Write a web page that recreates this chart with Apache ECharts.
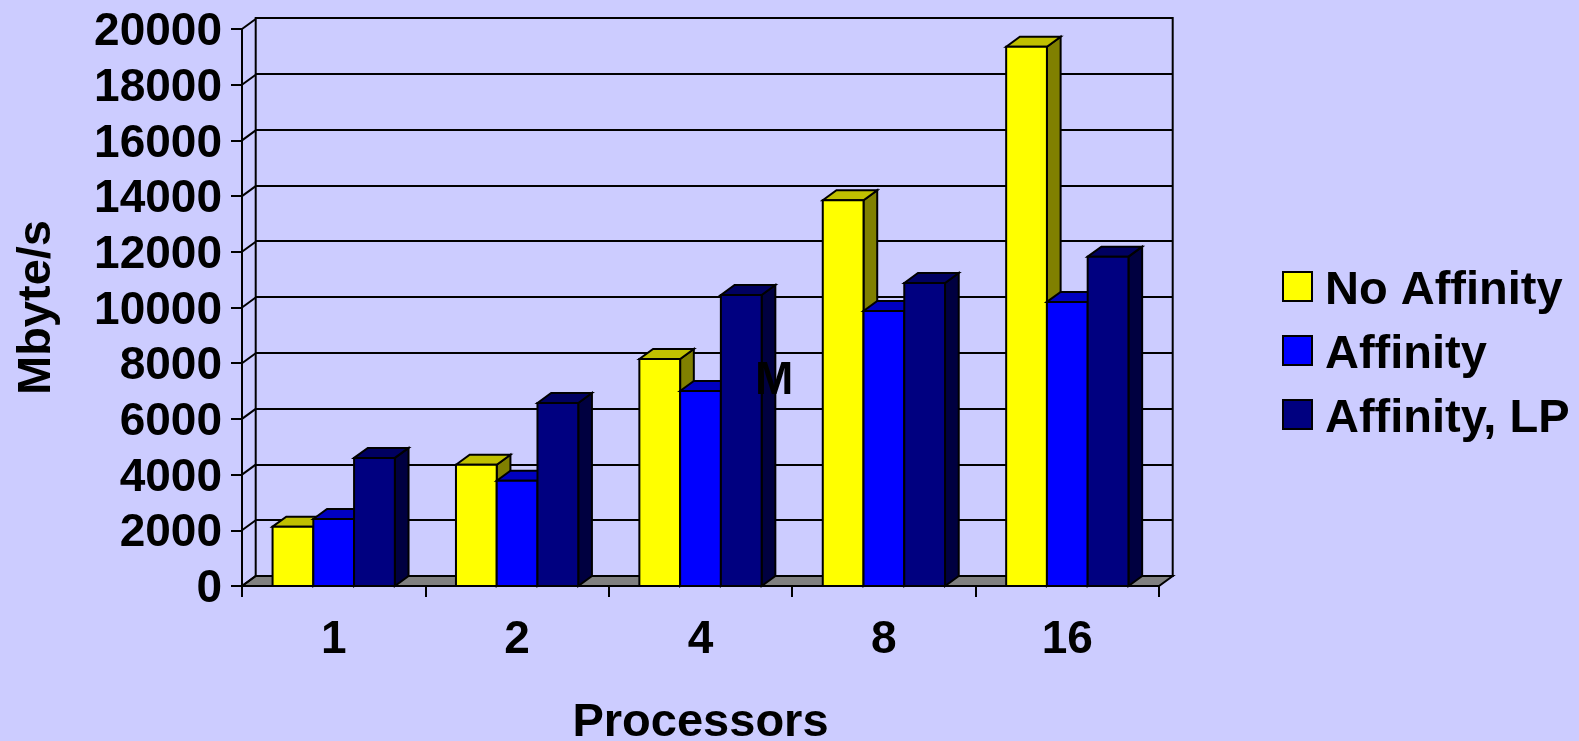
<!DOCTYPE html>
<html>
<head>
<meta charset="utf-8">
<style>
html, body { margin: 0; padding: 0; background: #ccccff; }
#chart { width: 1579px; height: 741px; }
</style>
<script src="https://cdn.jsdelivr.net/npm/echarts@6/dist/echarts.min.js"></script>
</head>
<body>
<div id="chart"></div>
<script>
// Memory throughput by processor count
const categories = ['1', '2', '4', '8', '16'];
const noAffinity = [2130, 4355, 8150, 13850, 19365];
const affinity = [2405, 3780, 7000, 9875, 10200];
const affinityLP = [4600, 6570, 10450, 10880, 11825];
const yTicks = [0, 2000, 4000, 6000, 8000, 10000, 12000, 14000, 16000, 18000, 20000];

const FONT = '"Liberation Sans", Arial, sans-serif';
const DEPTH_X = 13.7;
const DEPTH_Y = -10;
const LINE = 2;
const frontGrid = { left: 242, top: 29, width: 917, height: 557, outerBoundsMode: 'none' };
const backGrid = { left: 255.7, top: 18, width: 917, height: 558, outerBoundsMode: 'none' };

const edge = { stroke: '#000', lineWidth: LINE, lineJoin: 'miter' };
const poly = (points, fill) => ({
  type: 'polygon',
  shape: { points },
  style: Object.assign({ fill }, edge)
});

// Extruded column: front face, then right side and top slanting back
function columnSeries(name, values, slot, front, top, side) {
  return {
    type: 'custom',
    name,
    xAxisIndex: 0,
    yAxisIndex: 0,
    clip: false,
    z: 3,
    itemStyle: { color: front, borderColor: '#000', borderWidth: LINE },
    encode: { x: 0, y: 1 },
    data: values.map((v, i) => [i, v]),
    renderItem(params, api) {
      const band = api.size([1, 0])[0];
      const w = band / 4.5;
      const [cx, yTop] = api.coord([api.value(0), api.value(1)]);
      const yBase = api.coord([api.value(0), 0])[1];
      const x0 = cx - 1.5 * w + slot * w;
      const x1 = x0 + w;
      return {
        type: 'group',
        children: [
          poly([[x1, yTop], [x1 + DEPTH_X, yTop + DEPTH_Y], [x1 + DEPTH_X, yBase + DEPTH_Y], [x1, yBase]], side),
          poly([[x0, yTop], [x0 + DEPTH_X, yTop + DEPTH_Y], [x1 + DEPTH_X, yTop + DEPTH_Y], [x1, yTop]], top),
          poly([[x0, yTop], [x1, yTop], [x1, yBase], [x0, yBase]], front)
        ]
      };
    }
  };
}

const floorSeries = {
  type: 'custom',
  name: 'floor',
  xAxisIndex: 0,
  yAxisIndex: 0,
  clip: false,
  z: 2,
  silent: true,
  data: [[0, 0]],
  renderItem(params, api) {
    const c = params.coordSys;
    const y = api.coord([0, 0])[1];
    return poly([
      [c.x, y],
      [c.x + DEPTH_X, y + DEPTH_Y],
      [c.x + c.width + DEPTH_X, y + DEPTH_Y],
      [c.x + c.width, y]
    ], '#808080');
  }
};

// Short slanted links from the front axis to the back wall
const wallLinks = {
  type: 'custom',
  name: 'links',
  xAxisIndex: 0,
  yAxisIndex: 0,
  clip: false,
  z: 2,
  silent: true,
  data: yTicks.map(v => [0, v]),
  renderItem(params, api) {
    const c = params.coordSys;
    const y = api.coord([0, api.value(1)])[1];
    return {
      type: 'line',
      shape: { x1: c.x, y1: y, x2: c.x + DEPTH_X, y2: y + DEPTH_Y },
      style: { stroke: '#000', lineWidth: LINE }
    };
  }
};

const chart = echarts.init(document.getElementById('chart'));
const axisBase = { lineStyle: { color: '#000', width: LINE } };
const labelFont = { color: '#000', fontFamily: FONT, fontWeight: 'bold', fontSize: 46 };

chart.setOption({
  animation: false,
  backgroundColor: '#ccccff',
  grid: [
    Object.assign({ show: false }, frontGrid),
    Object.assign({ show: true, backgroundColor: 'transparent', borderColor: '#000', borderWidth: LINE }, backGrid)
  ],
  legend: {
    left: 1277,
    top: 263,
    orient: 'vertical',
    icon: 'rect',
    itemWidth: 29,
    itemHeight: 29,
    itemGap: 17,
    data: ['No Affinity', 'Affinity', 'Affinity, LP'],
    selectedMode: false,
    formatter: '{t|{name}}',
    textStyle: {
      rich: {
        t: Object.assign({}, labelFont, { fontSize: 47, padding: [10, 0, 0, 8] })
      }
    }
  },
  xAxis: [
    {
      type: 'category',
      gridIndex: 0,
      data: categories,
      name: 'Processors',
      nameLocation: 'middle',
      nameGap: 114,
      nameTextStyle: Object.assign({}, labelFont, { fontSize: 47 }),
      boundaryGap: true,
      axisLine: axisBase,
      axisTick: { show: true, length: 11, alignWithLabel: false, lineStyle: axisBase.lineStyle },
      axisLabel: Object.assign({ margin: 31 }, labelFont),
      splitLine: { show: false }
    },
    {
      type: 'category',
      gridIndex: 1,
      data: categories,
      axisLine: { show: false },
      axisTick: { show: false },
      axisLabel: { show: false },
      splitLine: { show: false }
    }
  ],
  yAxis: [
    {
      type: 'value',
      gridIndex: 0,
      min: 0,
      max: 20000,
      interval: 2000,
      name: 'Mbyte/s',
      nameLocation: 'middle',
      nameGap: 181,
      nameRotate: 90,
      nameTextStyle: Object.assign({}, labelFont, { fontSize: 47 }),
      axisLine: Object.assign({ show: true }, axisBase),
      axisTick: { show: true, length: 11, lineStyle: axisBase.lineStyle },
      axisLabel: Object.assign({ margin: 20, hideOverlap: false, verticalAlign: 'top', lineHeight: 7, formatter: v => String(v) }, labelFont),
      splitLine: { show: false }
    },
    {
      type: 'value',
      gridIndex: 1,
      min: 0,
      max: 20000,
      interval: 2000,
      axisLine: { show: false },
      axisTick: { show: false },
      axisLabel: { show: false },
      splitLine: { show: true, lineStyle: { color: '#000', width: LINE } }
    }
  ],
  graphic: [
    {
      type: 'text',
      left: 755,
      top: 358,
      z: 10,
      style: { text: 'M', fill: '#000', font: 'bold 46px ' + FONT }
    }
  ],
  series: [
    floorSeries,
    wallLinks,
    columnSeries('No Affinity', noAffinity, 0, '#ffff00', '#c0c000', '#808000'),
    columnSeries('Affinity', affinity, 1, '#0000ff', '#0000c0', '#000080'),
    columnSeries('Affinity, LP', affinityLP, 2, '#000080', '#000060', '#000040')
  ]
});
</script>
</body>
</html>
